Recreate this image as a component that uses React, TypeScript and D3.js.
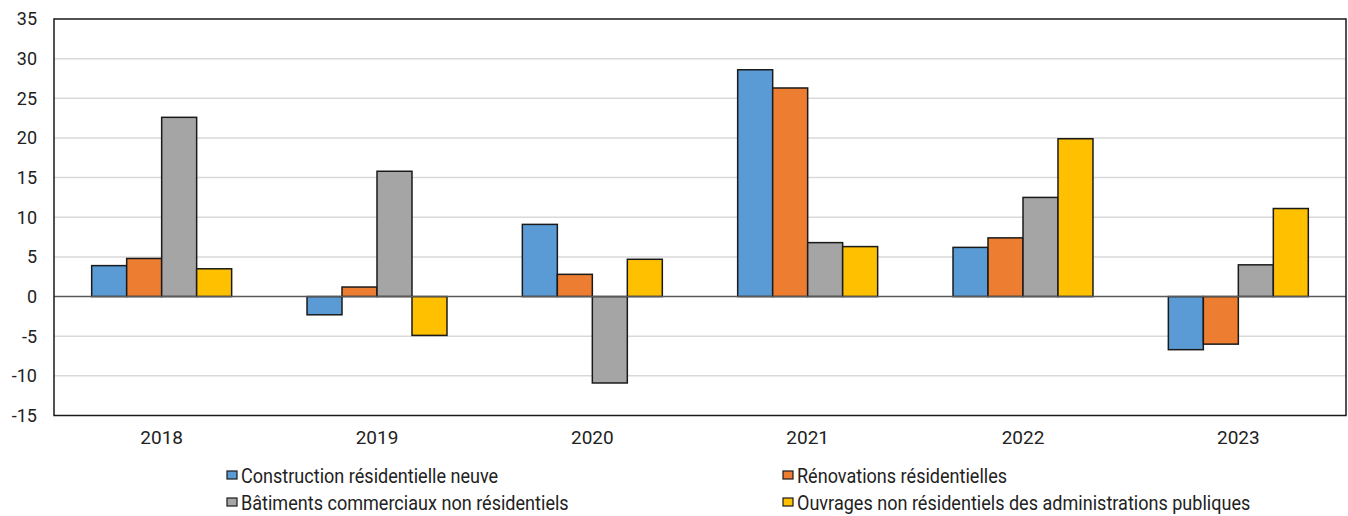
import { useEffect, useRef } from "react";
import * as d3 from "d3";

// Data
const years = ["2018", "2019", "2020", "2021", "2022", "2023"];
const seriesNames = [
  "Construction résidentielle neuve",
  "Rénovations résidentielles",
  "Bâtiments commerciaux non résidentiels",
  "Ouvrages non résidentiels des administrations publiques",
];
const newResidential = [3.9, -2.3, 9.1, 28.6, 6.2, -6.7];
const renovations = [4.8, 1.2, 2.8, 26.3, 7.4, -6.0];
const commercial = [22.6, 15.8, -10.9, 6.8, 12.5, 4.0];
const publicWorks = [3.5, -4.9, 4.7, 6.3, 19.9, 11.1];
const yTicks = [35, 30, 25, 20, 15, 10, 5, 0, -5, -10, -15];
const colors = ["#5B9BD5", "#ED7D31", "#A5A5A5", "#FFC000"];

const W = 1348;
const H = 516;

export default function App() {
  const ref = useRef<SVGSVGElement>(null);

  useEffect(() => {
    if (!ref.current) return;
    const svg = d3.select(ref.current);
    svg.selectAll("*").remove();

    const m = { left: 54, right: 1346, top: 19, bottom: 415.5 };
    const series = [newResidential, renovations, commercial, publicWorks];

    const x = d3.scaleBand().domain(years).range([m.left, m.right]).paddingInner(0.35).paddingOuter(0.175);
    const inner = d3.scaleBand().domain(d3.range(series.length).map(String)).range([0, x.bandwidth()]);
    const y = d3.scaleLinear().domain([-15, 35]).range([m.bottom, m.top]);

    const axisFont = "Roboto, 'Liberation Sans', sans-serif";

    // gridlines
    svg.append("g")
      .selectAll("line")
      .data(yTicks.filter(t => t !== 35 && t !== -15 && t !== 0))
      .enter().append("line")
      .attr("x1", m.left).attr("x2", m.right)
      .attr("y1", d => y(d)).attr("y2", d => y(d))
      .attr("stroke", "#d9d9d9").attr("stroke-width", 1.5);

    // bars
    series.forEach((vals, si) => {
      svg.append("g")
        .selectAll("rect")
        .data(vals)
        .enter().append("rect")
        .attr("x", (_, i) => (x(years[i]) as number) + (inner(String(si)) as number))
        .attr("width", inner.bandwidth())
        .attr("y", d => y(Math.max(0, d)))
        .attr("height", d => Math.abs(y(d) - y(0)))
        .attr("fill", colors[si])
        .attr("stroke", "#1a1a1a").attr("stroke-width", 1.5);
    });

    // zero line
    svg.append("line")
      .attr("x1", m.left).attr("x2", m.right)
      .attr("y1", y(0)).attr("y2", y(0))
      .attr("stroke", "#595959").attr("stroke-width", 1.5);

    // plot border
    svg.append("rect")
      .attr("x", m.left).attr("y", m.top)
      .attr("width", m.right - m.left).attr("height", m.bottom - m.top)
      .attr("fill", "none").attr("stroke", "#1a1a1a").attr("stroke-width", 1.5);

    // y tick labels
    svg.append("g")
      .selectAll("text")
      .data(yTicks)
      .enter().append("text")
      .attr("x", 37).attr("y", d => y(d))
      .attr("dy", "0.35em")
      .attr("text-anchor", "end")
      .style("font-family", axisFont).style("font-size", "18px").attr("fill", "#222")
      .text(d => String(d));

    // x labels
    svg.append("g")
      .selectAll("text")
      .data(years)
      .enter().append("text")
      .attr("x", d => (x(d) as number) + x.bandwidth() / 2)
      .attr("y", 437).attr("dy", "0.35em")
      .attr("text-anchor", "middle")
      .style("font-family", axisFont).style("font-size", "19px").attr("fill", "#222")
      .text(d => d);

    // legend (condensed look: Roboto squeezed horizontally)
    const legendPos = [
      [227, 476], [783, 476], [227, 503], [783, 503],
    ];
    const lg = svg.append("g")
      .selectAll("g")
      .data(seriesNames)
      .enter().append("g")
      .attr("transform", (_, i) => `translate(${legendPos[i][0]},${legendPos[i][1]})`);
    lg.append("rect")
      .attr("x", 0).attr("y", -5).attr("width", 10).attr("height", 8)
      .attr("fill", (_, i) => colors[i])
      .attr("stroke", "#1a1a1a").attr("stroke-width", 1.2);
    lg.append("text")
      .attr("transform", "translate(14,0) scale(0.86,1)")
      .attr("dy", "0.35em")
      .style("font-family", axisFont).style("font-size", "21px").attr("fill", "#222")
      .text(d => d);
  }, []);

  return (
    <svg ref={ref} width={W} height={H}
      style={{ position: "absolute", left: 0, top: 0, background: "#fff" }} />
  );
}
